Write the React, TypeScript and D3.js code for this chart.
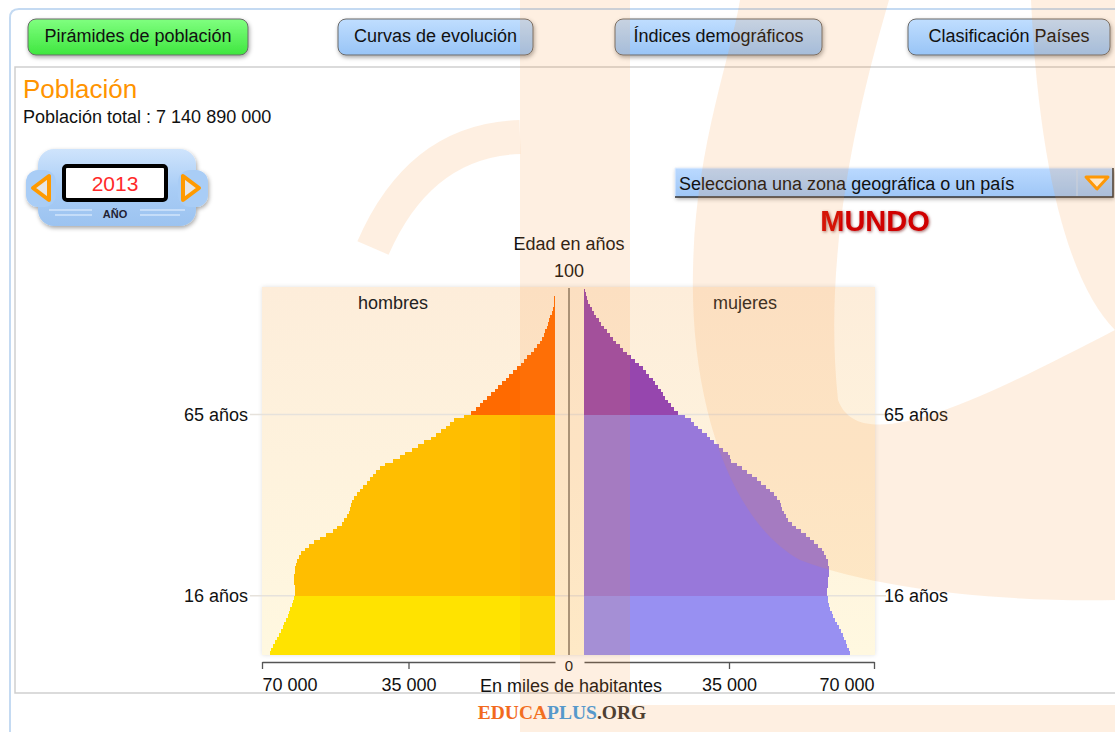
import React, { useEffect, useRef } from 'react';
import * as d3 from 'd3';

// ---- data (thousands of inhabitants per single year of age, 0..99) ----
const maleValues = [
  68200, 67800, 67300, 66800, 66400, 66000, 65500, 65100, 64700, 64300,
  63900, 63600, 63200, 62900, 62600, 62400, 62200, 62100, 62200, 62300,
  62400, 62300, 62200, 62100, 61900, 61600, 61200, 60700, 59800, 58700,
  57500, 56100, 54600, 53100, 52000, 51000, 50300, 49700, 49200, 48900,
  48700, 48500, 48000, 47300, 46600, 45800, 45000, 44300, 43500, 42700,
  41800, 40500, 38800, 37100, 35900, 34200, 32700, 31200, 29700, 28500,
  27200, 26100, 25000, 24100, 21800, 20000, 18900, 18000, 17200, 16300,
  15300, 14300, 13500, 12700, 11800, 10900, 10000, 9100, 8200, 7400,
  6600, 5800, 5000, 4300, 3600, 3100, 2700, 2300, 2000, 1700,
  1400, 1100, 800, 550, 350, 200, 120, 70, 40, 20,
];
const femaleValues = [
  64300, 64000, 63600, 63200, 62800, 62400, 62000, 61600, 61100, 60700,
  60200, 59800, 59400, 59100, 58900, 58800, 58700, 58700, 58800, 58900,
  59000, 59100, 59150, 59150, 59000, 58800, 58500, 58000, 57400, 56600,
  55600, 54600, 53500, 52300, 51200, 50200, 49300, 48700, 48200, 47800,
  47600, 47400, 46700, 45800, 44900, 43900, 42800, 41800, 40600, 39400,
  38100, 36900, 35600, 35200, 34800, 33600, 32500, 31400, 30300, 29600,
  28600, 27600, 26600, 25800, 24300, 22700, 21800, 21000, 20200, 19500,
  19000, 18500, 17900, 17200, 16600, 15800, 15000, 14200, 13300, 12300,
  11300, 10300, 9400, 8600, 7800, 7000, 6200, 5500, 4800, 4200,
  3600, 3000, 2500, 2000, 1500, 1000, 700, 400, 200, 60,
];
const ageBreaks = [16, 65];
const ageBreakLabels = ['16 años', '65 años'];
const axisTicks = [35000, 70000];
const tabLabels = ['Pirámides de población', 'Curvas de evolución', 'Índices demográficos', 'Clasificación Países'];
const totalPopulation = 'Población total : 7 140 890 000';
const yearLabel = '2013';
const regionLabel = 'MUNDO';

const maleColors = ['#FFE300', '#FFBE00', '#FF6A00'];
const femaleColors = ['#9890F2', '#9878DA', '#9646AE'];

const FONT = "'Liberation Sans', Arial, sans-serif";
const FS = 18;

export default function App() {
  const axisRef = useRef<SVGGElement>(null);

  const xMale = d3.scaleLinear().domain([0, 70000]).range([555, 262]);
  const xFemale = d3.scaleLinear().domain([0, 70000]).range([584, 874]);
  const yAge = d3.scaleLinear().domain([0, 100]).range([655, 285]);
  const band = (a: number) => (a < ageBreaks[0] ? 0 : a < ageBreaks[1] ? 1 : 2);

  useEffect(() => {
    const g = d3.select(axisRef.current);
    g.selectAll('*').remove();
    const fmt = (v: any) => d3.format(',')(v).replace(/,/g, ' ');
    const mk = (scale: any) => {
      const ax = d3.axisBottom(scale).tickValues(axisTicks).tickSize(7).tickSizeOuter(0).tickPadding(9).tickFormat(fmt);
      const gg = g.append('g').attr('transform', 'translate(0,662)').call(ax as any);
      gg.attr('font-size', FS).attr('font-family', FONT);
      gg.select('.domain').attr('stroke', '#555').attr('stroke-width', 1.3);
      gg.selectAll('.tick line').attr('stroke', '#555').attr('stroke-width', 1.3);
      gg.selectAll('.tick text').attr('fill', '#111');
      return gg;
    };
    const l = mk(xMale);
    const r = mk(xFemale);
    l.selectAll('.tick text').filter((d: any) => d === 70000).attr('text-anchor', 'start');
    r.selectAll('.tick text').filter((d: any) => d === 70000).attr('text-anchor', 'end');
  }, []);

  const tabs = [
    { x: 28, w: 220, green: true },
    { x: 338, w: 195, green: false },
    { x: 615, w: 207, green: false },
    { x: 908, w: 202, green: false },
  ];

  return (
    <svg width={1115} height={732} style={{ position: 'absolute', left: 0, top: 0, background: '#fff' }} fontFamily={FONT}>
      <defs>
        <linearGradient id="gGreen" x1="0" y1="0" x2="0" y2="1">
          <stop offset="0" stopColor="#80FF80" />
          <stop offset="1" stopColor="#3FE63F" />
        </linearGradient>
        <linearGradient id="gBlue" x1="0" y1="0" x2="0" y2="1">
          <stop offset="0" stopColor="#C0DEFF" />
          <stop offset="1" stopColor="#98C4F6" />
        </linearGradient>
        <linearGradient id="gWidget" x1="0" y1="0" x2="0" y2="1">
          <stop offset="0" stopColor="#CFE4FC" />
          <stop offset="0.5" stopColor="#A9CDF6" />
          <stop offset="1" stopColor="#9CC3F0" />
        </linearGradient>
        <linearGradient id="gDrop" x1="0" y1="0" x2="0" y2="1">
          <stop offset="0" stopColor="#BAD9FF" />
          <stop offset="1" stopColor="#9EC6F6" />
        </linearGradient>
        <linearGradient id="gPlot" x1="0" y1="0" x2="0" y2="1">
          <stop offset="0" stopColor="#FDEDDA" />
          <stop offset="1" stopColor="#FFF8E0" />
        </linearGradient>
        <filter id="shadow" x="-20%" y="-30%" width="140%" height="170%">
          <feDropShadow dx="1" dy="2" stdDeviation="2" floodColor="#000" floodOpacity="0.35" />
        </filter>
        <filter id="softShadow" x="-5%" y="-5%" width="110%" height="110%">
          <feDropShadow dx="0" dy="0" stdDeviation="2" floodColor="#000" floodOpacity="0.12" />
        </filter>
        <filter id="textShadow" x="-20%" y="-30%" width="140%" height="170%">
          <feDropShadow dx="1" dy="1" stdDeviation="1.5" floodColor="#600" floodOpacity="0.6" />
        </filter>
      </defs>

      {/* outer frame */}
      <path d="M10,732 V18 Q10,9 19,9 H1115" fill="none" stroke="#C4DAF2" strokeWidth={2} />
      {/* inner panel */}
      <path d="M1115,67 H15 V693 H1115" fill="none" stroke="#CFCFCF" strokeWidth={1.5} />

      {/* tabs */}
      {tabs.map((t, i) => (
        <g key={i}>
          <rect x={t.x} y={19} width={t.w} height={36} rx={8} fill={t.green ? 'url(#gGreen)' : 'url(#gBlue)'}
            stroke="#6A6A6A" strokeWidth={1} filter="url(#shadow)" />
          <text x={t.x + t.w / 2} y={42} textAnchor="middle" fontSize={FS} fill="#111">{tabLabels[i]}</text>
        </g>
      ))}

      {/* titles */}
      <text x={23} y={98} fontSize={26} fill="#FF9400">Población</text>
      <text x={23} y={123} fontSize={FS} fill="#111">{totalPopulation}</text>

      {/* year widget */}
      <g>
        <g filter="url(#shadow)">
          <rect x={38} y={149} width={158} height={77} rx={16} fill="url(#gWidget)" />
          <rect x={26} y={170} width={30} height={37} rx={12} fill="#A9CDF6" />
          <rect x={178} y={170} width={30} height={37} rx={12} fill="#A9CDF6" />
        </g>
        <path d="M33,188 L49,176 L49,200 Z" fill="#E6E6E6" stroke="#FF9A00" strokeWidth={4} strokeLinejoin="round" />
        <path d="M199,188 L183,176 L183,200 Z" fill="#E6E6E6" stroke="#FF9A00" strokeWidth={4} strokeLinejoin="round" />
        <rect x={64} y={166} width={102} height={34} rx={3} fill="#fff" stroke="#000" strokeWidth={4} />
        <text x={115} y={191} textAnchor="middle" fontSize={21} fill="#FF2A2A">{yearLabel}</text>
        <line x1={49} x2={92} y1={210} y2={210} stroke="#EAF3FF" strokeWidth={1.2} />
        <line x1={55} x2={92} y1={215} y2={215} stroke="#EAF3FF" strokeWidth={1.2} />
        <line x1={140} x2={185} y1={210} y2={210} stroke="#EAF3FF" strokeWidth={1.2} />
        <line x1={140} x2={180} y1={215} y2={215} stroke="#EAF3FF" strokeWidth={1.2} />
        <text x={115} y={218} textAnchor="middle" fontSize={11} fontWeight="bold" fill="#223">AÑO</text>
      </g>

      {/* dropdown */}
      <g>
        <rect x={675} y={168} width={438} height={29} fill="url(#gDrop)" filter="url(#shadow)" />
        <path d="M675,197 V168 H1113" fill="none" stroke="#E6F0FF" strokeWidth={1} />
        <path d="M675,197 H1113 V168" fill="none" stroke="#333" strokeWidth={1.5} />
        <line x1={1077} x2={1077} y1={170} y2={196} stroke="#C8DDF6" strokeWidth={1} />
        <path d="M1086,177 L1108,177 L1097,189 Z" fill="#FFF6E0" stroke="#FF9A00" strokeWidth={3} strokeLinejoin="round" />
        <text x={679} y={190} fontSize={FS} fill="#111">Selecciona una zona geográfica o un país</text>
      </g>
      <text x={875} y={231} textAnchor="middle" fontSize={29} fontWeight="bold" fill="#D00000" filter="url(#textShadow)">{regionLabel}</text>

      {/* pyramid */}
      <text x={569} y={250} textAnchor="middle" fontSize={FS} fill="#111">Edad en años</text>
      <text x={569} y={277} textAnchor="middle" fontSize={FS} fill="#111">100</text>
      <rect x={262} y={287} width={613} height={368} fill="url(#gPlot)" filter="url(#softShadow)" />
      {ageBreaks.map((a, i) => (
        <g key={a}>
          <line x1={250} x2={886} y1={yAge(a)} y2={yAge(a)} stroke="#E6E2DC" strokeWidth={1.5} />
          <text x={248} y={yAge(a) + 6} textAnchor="end" fontSize={FS} fill="#111">{ageBreakLabels[i]}</text>
          <text x={884} y={yAge(a) + 6} textAnchor="start" fontSize={FS} fill="#111">{ageBreakLabels[i]}</text>
        </g>
      ))}
      <text x={393} y={309} textAnchor="middle" fontSize={FS} fill="#222">hombres</text>
      <text x={745} y={309} textAnchor="middle" fontSize={FS} fill="#222">mujeres</text>

      <g shapeRendering="crispEdges">
        {maleValues.map((v, a) => (
          <rect key={'m' + a} x={xMale(v)} y={yAge(a + 1)} width={xMale(0) - xMale(v)} height={yAge(a) - yAge(a + 1)}
            fill={maleColors[band(a)]} />
        ))}
        {femaleValues.map((v, a) => (
          <rect key={'f' + a} x={xFemale(0)} y={yAge(a + 1)} width={xFemale(v) - xFemale(0)} height={yAge(a) - yAge(a + 1)}
            fill={femaleColors[band(a)]} />
        ))}
      </g>
      <line x1={569} x2={569} y1={288} y2={655} stroke="#7E7366" strokeWidth={1.5} />

      <g ref={axisRef} />
      <text x={569} y={671} textAnchor="middle" fontSize={15} fill="#111">0</text>
      <text x={571} y={692} textAnchor="middle" fontSize={FS} fill="#111">En miles de habitantes</text>

      {/* logo */}
      <text x={562} y={719} textAnchor="middle" fontSize={19.5} fontWeight="bold" fontFamily="'Liberation Serif', 'DejaVu Serif', serif">
        <tspan fill="#F26A1E">EDUCA</tspan>
        <tspan fill="#3C9BE6">PLUS</tspan>
        <tspan fill="#333">.ORG</tspan>
      </text>

      {/* watermark overlay */}
      <g fill="rgb(245,140,40)" fillOpacity={0.14} style={{ pointerEvents: 'none' }}>
        <rect x={520} y={0} width={110} height={732} />
        <rect x={630} y={705} width={485} height={27} />
        <path d="M740,0 L889,0 C860,100 822,250 838,400 C860,460 980,400 1115,330 L1115,600 C1000,602 880,590 800,560 C730,522 690,400 693,270 C695,150 730,60 740,0 Z" />
        <path d="M1031,0 L1115,0 L1115,330 C1075,290 1040,190 1031,0 Z" />
      </g>
      <path d="M373,248 Q420,140 520,137" fill="none" stroke="rgb(245,140,40)" strokeOpacity={0.14} strokeWidth={34} />
    </svg>
  );
}
